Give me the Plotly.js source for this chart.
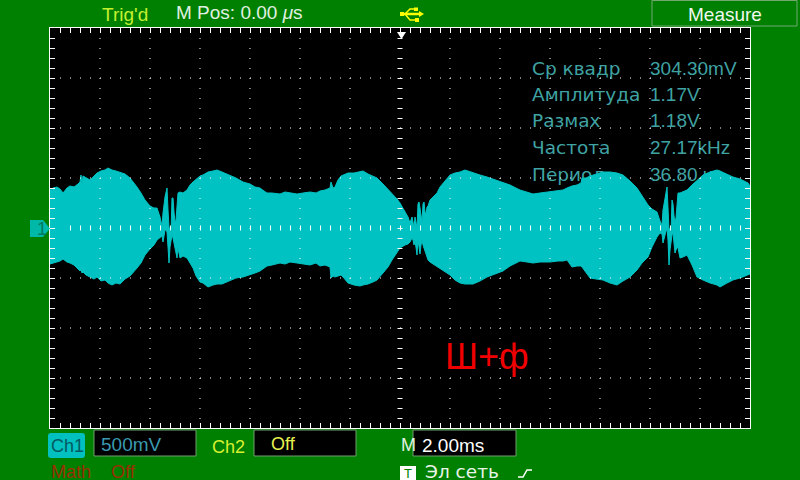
<!DOCTYPE html>
<html><head><meta charset="utf-8">
<script src="https://cdn.plot.ly/plotly-3.0.0.min.js"></script>
<style>html,body{margin:0;padding:0;background:#008000;overflow:hidden}</style>
</head><body><div id="chart" style="width:800px;height:480px"></div>
<script>
// time in ms (2 ms/div), envelope in volts (500 mV/div)
const timeMs = [-14,-13.88,-13.72,-13.6,-13.48,-13.32,-13.2,-13.04,-12.88,-12.8,-12.76,-12.72,-12.68,-12.56,-12.4,-12.24,-12.12,-11.96,-11.8,-11.68,-11.52,-11.36,-11.2,-11,-10.8,-10.64,-10.52,-10.36,-10.2,-10,-9.84,-9.72,-9.6,-9.52,-9.48,-9.4,-9.36,-9.32,-9.28,-9.24,-9.2,-9.16,-9.12,-9.08,-9.04,-9,-8.96,-8.92,-8.88,-8.8,-8.68,-8.52,-8.4,-8.28,-8.16,-8,-7.88,-7.68,-7.48,-7.32,-7.12,-6.92,-6.8,-6.56,-6.28,-6,-5.8,-5.6,-5.44,-5.32,-5.12,-4.8,-4.6,-4.4,-4.12,-3.88,-3.6,-3.36,-3.2,-3,-2.8,-2.76,-2.68,-2.6,-2.48,-2.36,-2.28,-2.08,-1.84,-1.6,-1.48,-1.28,-1.08,-0.92,-0.68,-0.48,-0.32,-0.12,0,0.2,0.32,0.4,0.48,0.52,0.56,0.6,0.64,0.68,0.72,0.76,0.8,0.84,0.88,0.92,0.96,1,1.04,1.08,1.12,1.2,1.32,1.48,1.6,1.8,2,2.2,2.4,2.6,2.92,3.2,3.48,3.8,4.12,4.4,4.8,5.08,5.32,5.6,6,6.32,6.52,6.68,6.88,7.08,7.24,7.28,7.44,7.6,7.84,8.12,8.4,8.68,8.92,9.2,9.48,9.68,9.92,10.08,10.28,10.4,10.48,10.52,10.6,10.68,10.72,10.76,10.8,10.84,10.88,10.92,10.96,11,11.04,11.08,11.12,11.2,11.32,11.48,11.68,11.88,12.12,12.4,12.68,12.8,13.08,13.32,13.6,13.8,13.92,14];
const upperV = [.38,.40,.41,.39,.35,.40,.42,.41,.44,.46,.53,.44,.52,.50,.48,.52,.55,.57,.58,.60,.58,.57,.56,.54,.50,.45,.41,.35,.28,.22,.20,.20,.11,.02,.15,.31,.38,.40,.18,.01,-.02,-.04,.30,.30,.16,.06,.08,.28,.35,.36,.35,.38,.43,.46,.49,.52,.53,.56,.57,.58,.56,.54,.53,.50,.46,.44,.41,.40,.37,.35,.35,.34,.36,.35,.34,.35,.36,.35,.37,.38,.40,.46,.40,.41,.48,.52,.53,.55,.55,.56,.57,.54,.52,.50,.44,.39,.35,.29,.25,.16,.11,.05,.11,.06,0,.11,.04,0,.24,.26,.20,.14,.06,.24,.26,.16,.14,.21,.22,.28,.31,.35,.41,.47,.53,.55,.56,.58,.55,.53,.51,.48,.45,.43,.38,.36,.34,.35,.36,.37,.38,.40,.42,.43,.45,.50,.50,.52,.54,.56,.56,.55,.53,.47,.40,.32,.23,.19,.16,.07,.03,.18,.32,.41,.20,-.02,0,-.05,.28,.24,.12,.06,.10,.28,.35,.35,.36,.38,.43,.48,.53,.56,.58,.57,.54,.51,.49,.47,.45,.42];
const lowerV = [-.36,-.35,-.34,-.33,-.31,-.34,-.35,-.37,-.41,-.43,-.42,-.45,-.44,-.47,-.49,-.51,-.49,-.53,-.52,-.55,-.57,-.55,-.56,-.51,-.48,-.44,-.40,-.35,-.27,-.21,-.17,-.12,-.09,-.08,-.14,-.02,-.02,-.04,-.19,-.35,-.19,-.10,-.07,-.10,-.15,-.19,-.27,-.30,-.20,-.30,-.28,-.30,-.35,-.40,-.48,-.54,-.55,-.59,-.57,-.56,-.56,-.54,-.53,-.50,-.49,-.47,-.45,-.43,-.40,-.38,-.37,-.35,-.36,-.34,-.35,-.36,-.37,-.35,-.38,-.37,-.39,-.50,-.48,-.49,-.48,-.47,-.49,-.55,-.57,-.58,-.57,-.56,-.54,-.52,-.45,-.39,-.32,-.25,-.20,-.17,-.16,-.14,-.10,-.12,-.17,-.12,-.20,-.27,-.12,-.18,-.26,-.17,-.12,-.17,-.20,-.21,-.24,-.28,-.32,-.34,-.36,-.39,-.41,-.44,-.47,-.52,-.55,-.56,-.56,-.53,-.49,-.46,-.43,-.38,-.33,-.34,-.35,-.34,-.34,-.33,-.33,-.32,-.39,-.38,-.38,-.39,-.44,-.50,-.51,-.52,-.55,-.57,-.53,-.49,-.42,-.35,-.29,-.19,-.09,-.05,-.06,-.15,-.07,0,-.12,-.37,-.22,-.10,-.07,-.05,-.16,-.25,-.22,-.19,-.20,-.30,-.29,-.27,-.37,-.49,-.52,-.55,-.57,-.59,-.55,-.52,-.50,-.48,-.47,-.46];

const measureNames = ["Ср квадр","Амплитуда","Размах","Частота","Период"];
const measureValues = ["304.30mV","1.17V","1.18V","27.17kHz","36.80 us"];
const measureRowV = [1.58,1.32,1.055,0.785,0.52];
const nameColMs = [5.28,5.28,5.28,5.28,5.28];
const valueColMs = [10,10,10,10,10];

const px = x => (x-50)/700, py = y => (428-y)/400;
const GREEN='#008000', WAVE='#00c2c2', MEAS='#3fa3a3';

const traces = [
 {x:nameColMs,y:measureRowV,text:measureNames,mode:'text',textposition:'middle right',
  textfont:{family:'DejaVu Sans',size:18.5,color:MEAS},hoverinfo:'skip'},
 {x:valueColMs,y:measureRowV,text:measureValues,mode:'text',textposition:'middle right',
  textfont:{family:'Liberation Sans',size:19,color:MEAS},hoverinfo:'skip'},
 {x:timeMs,y:upperV,mode:'lines',line:{color:WAVE,width:1},hoverinfo:'skip'},
 {x:timeMs,y:lowerV,mode:'lines',line:{color:WAVE,width:1},fill:'tonexty',fillcolor:WAVE,hoverinfo:'skip'}
];

const shapes = [];
const dotLine = (x0,y0,x1,y1,w,dash) => shapes.push({type:'line',xref:'x',yref:'y',x0,y0,x1,y1,layer:'above',
   line:{color:'#ffffff',width:w,dash}});
[-12,-10,-8,-6,-4,-2,2,4,6,8,10,12].forEach(c=>dotLine(c,1.9,c,-2,1,'1px,9px'));
[-1.5,-1,-.5,.5,1,1.5].forEach(r=>dotLine(-13.6,r,14,r,1,'1px,9px'));
dotLine(-13.2,0,14,0,5,'1px,9px');
dotLine(0,1.9,0,-2,5,'1px,9px');
const box=(x0,y0,x1,y1,fill,line)=>shapes.push({type:'rect',xref:'paper',yref:'paper',x0:px(x0),x1:px(x1),y0:py(y0),y1:py(y1),
   fillcolor:fill,line:{color:line||fill,width:line?1:0},layer:'above'});
const path=(pts,fill,stroke,w)=>shapes.push({type:'path',xref:'paper',yref:'paper',
   path:pts.map((p,i)=>(i?'L':'M')+px(p[0])+','+py(p[1])).join(' ')+(fill?' Z':''),
   fillcolor:fill||'rgba(0,0,0,0)',line:{color:stroke||fill,width:w||0},layer:'above'});
box(652,0.5,797,26,GREEN,'#70a870');
box(94,430,196,456,'#000000','#70a070');
box(254,430,356,456,'#000000','#70a070');
box(413,430,516,456,'#000000','#70a070');
shapes.push({type:'path',xref:'paper',yref:'paper',layer:'above',fillcolor:'#00c0c0',line:{width:0},
 path:`M${px(51)},${py(433)} L${px(82)},${py(433)} Q${px(85)},${py(433)} ${px(85)},${py(436)} L${px(85)},${py(455)} Q${px(85)},${py(458)} ${px(82)},${py(458)} L${px(51)},${py(458)} Q${px(48)},${py(458)} ${px(48)},${py(455)} L${px(48)},${py(436)} Q${px(48)},${py(433)} ${px(51)},${py(433)} Z`});
box(400,466,416,481,'#ffffff');
path([[30,220],[43,220],[50,228.5],[43,237],[30,237]],'#00b8a8');
path([[397,32],[406,32],[401.5,39]],'#ffffff');
const YEL='#ffff00';
path([[402,14],[421,14]],null,YEL,2.5);
path([[405,14],[410,9],[415,9]],null,YEL,1.5);
path([[405,14],[410,20],[416,20]],null,YEL,1.5);
path([[419,11],[424,14],[419,17]],YEL);
path([[400,12],[404,12],[404,16],[400,16]],YEL);
path([[414,7.5],[418,7.5],[418,11],[414,11]],YEL);
path([[415,18],[419,18],[419,22],[415,22]],YEL);
path([[518,477],[523,477],[527,470],[532,470]],null,'#ffffff',1.5);

const label=(text,x,y,size,color,anchor,fam)=>({text,x:px(x),y:py(y),xref:'paper',yref:'paper',showarrow:false,
   xanchor:anchor||'left',yanchor:'middle',borderpad:0,font:{family:fam||'Liberation Sans',size,color}});
const annotations=[
 label("Trig'd",101,14,19,'#c4f030'),
 label("M Pos: 0.00 <i>μ</i>s",175,13,19,'#e0f0e0'),
 label("Measure",725,14,19,'#f0f8f0','center'),
 label("Ш+ф",444,356,36,'#f00000'),
 label("1",36,229,18,'#007a60'),
 label("Ch1",50,446,18,'#005a60'),
 label("500mV",100,444,19,'#3a9ab0'),
 label("Ch2",211,447,18,'#d8f030'),
 label("Off",270,444,18,'#e8f050'),
 label("M",400,445,18,'#e0f0e0'),
 label("2.00ms",421,445,19,'#ffffff'),
 label("Math",50,472,18,'#983000'),
 label("Off",110,472,18,'#983000'),
 label("T",408,473,13,GREEN,'center'),
 label("Эл сеть",424,471,18.5,'#e8f4e8','left','DejaVu Sans')
];

const axis={showgrid:false,zeroline:false,showticklabels:false,ticks:'inside',ticklen:5,tickwidth:1,tickcolor:'#ffffff',
  showline:true,linecolor:'#ffffff',linewidth:1,mirror:'allticks',fixedrange:true,tick0:0};
const layout={width:800,height:480,margin:{l:50,r:50,t:28,b:52,pad:0},paper_bgcolor:GREEN,plot_bgcolor:'#000000',showlegend:false,
  xaxis:Object.assign({},axis,{range:[-14,14],dtick:0.4}),
  yaxis:Object.assign({},axis,{range:[-2,2],dtick:0.1}),
  shapes,annotations};
Plotly.newPlot('chart',traces,layout,{displayModeBar:false,staticPlot:true});
</script></body></html>
